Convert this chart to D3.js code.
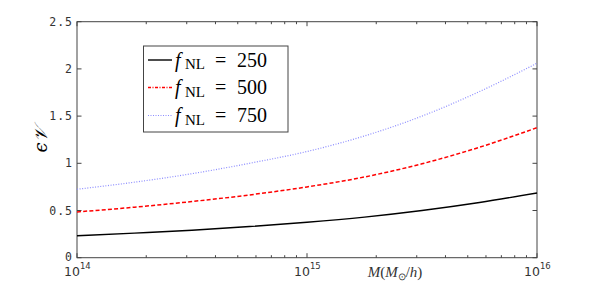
<!DOCTYPE html>
<html lang="en">
<head>
    <meta charset="UTF-8"/>
    <title>D3 visualization</title>
    <style>
        body { margin: 0; background: #fff; }
    </style>
</head>
<body>
<svg id="chart" width="594" height="291"></svg>

<script src="https://d3js.org/d3.v7.min.js"></script>
<script type="text/javascript">

    // halo mass (log10 M) and epsilon*V for each f_NL
    var logMass = [14, 14.25, 14.5, 14.75, 15, 15.25, 15.5, 15.75, 16];
    var fnl250 = [0.233, 0.26, 0.29, 0.33, 0.375, 0.43, 0.50, 0.585, 0.685];
    var fnl500 = [0.485, 0.535, 0.595, 0.665, 0.75, 0.855, 0.995, 1.17, 1.377];
    var fnl750 = [0.725, 0.80, 0.89, 1.00, 1.125, 1.29, 1.50, 1.76, 2.06];
    var yTicks = [0, 0.5, 1, 1.5, 2, 2.5];
    var xMajor = [1e14, 1e15, 1e16];
    var legendLabels = ["250", "500", "750"];

    let svg = d3.select("#chart"),
        pLeft = 77, pRight = 537, pTop = 21.7, pBottom = 257.7;

    let x = d3.scaleLog().domain([1e14, 1e16]).range([pLeft, pRight]);
    let y = d3.scaleLinear().domain([0, 2.5]).range([pBottom, pTop]);

    // minor ticks 2..9 per decade
    var xMinor = [];
    [1e14, 1e15].forEach(function (b) {
        for (var k = 2; k <= 9; k++) xMinor.push(b * k);
    });

    var axisColor = "#444";
    var g = svg.append("g");

    // ticks drawn inward, like the original
    g.selectAll(".ymaj").data(yTicks).enter().append("g").each(function (v) {
        d3.select(this).append("line")
            .attr("x1", pLeft).attr("x2", pLeft + 4.5)
            .attr("y1", y(v)).attr("y2", y(v))
            .style("stroke", axisColor);
        d3.select(this).append("line")
            .attr("x1", pRight).attr("x2", pRight - 4.5)
            .attr("y1", y(v)).attr("y2", y(v))
            .style("stroke", axisColor);
    });

    g.selectAll(".xmin").data(xMinor).enter().append("g").each(function (v) {
        d3.select(this).append("line")
            .attr("x1", x(v)).attr("x2", x(v))
            .attr("y1", pBottom).attr("y2", pBottom - 2.5)
            .style("stroke", axisColor);
        d3.select(this).append("line")
            .attr("x1", x(v)).attr("x2", x(v))
            .attr("y1", pTop).attr("y2", pTop + 2.5)
            .style("stroke", axisColor);
    });
    g.selectAll(".xmaj").data(xMajor).enter().append("g").each(function (v) {
        d3.select(this).append("line")
            .attr("x1", x(v)).attr("x2", x(v))
            .attr("y1", pBottom).attr("y2", pBottom - 4.5)
            .style("stroke", axisColor);
        d3.select(this).append("line")
            .attr("x1", x(v)).attr("x2", x(v))
            .attr("y1", pTop).attr("y2", pTop + 4.5)
            .style("stroke", axisColor);
    });

    // frame
    g.append("rect")
        .attr("x", pLeft).attr("y", pTop)
        .attr("width", pRight - pLeft).attr("height", pBottom - pTop)
        .style("fill", "none")
        .style("stroke", axisColor)
        .style("stroke-width", 1);

    // y tick labels
    svg.selectAll(".ylab").data(yTicks).enter().append("text")
        .attr("x", pLeft - 4)
        .attr("y", function (d) { return d === 0 ? y(d) + 3 : y(d) + 4; })
        .attr("text-anchor", "end")
        .style("font-family", "'DejaVu Sans Mono', monospace")
        .style("font-size", "11.5px")
        .style("letter-spacing", "1px")
        .style("fill", "#333")
        .text(function (d) { return d === 0 ? "0" : String(d); });

    // x tick labels 10^n
    svg.selectAll(".xlab").data(xMajor).enter().append("text")
        .attr("x", function (d) { return x(d) - 13; })
        .attr("y", 276)
        .style("font-family", "'DejaVu Sans', sans-serif")
        .style("font-size", "12.5px")
        .style("fill", "#333")
        .each(function (d) {
            var t = d3.select(this);
            t.append("tspan").text("10");
            t.append("tspan").attr("dy", -7).style("font-size", "8.5px")
                .text(String(Math.round(Math.log10(d))));
        });

    // axis labels
    var xl = svg.append("text")
        .attr("x", 395).attr("y", 277)
        .attr("text-anchor", "middle")
        .style("font-family", "'Liberation Serif', serif")
        .style("font-size", "15px")
        .style("fill", "#333");
    xl.append("tspan").style("font-style", "italic").text("M");
    xl.append("tspan").text("(");
    xl.append("tspan").style("font-style", "italic").text("M");
    xl.append("tspan").attr("dy", 3).style("font-size", "10px").text("\u2299");
    xl.append("tspan").attr("dy", -3).text("/");
    xl.append("tspan").style("font-style", "italic").text("h");
    xl.append("tspan").text(")");

    svg.append("text")
        .attr("transform", "translate(47,140) rotate(-90)")
        .attr("text-anchor", "middle")
        .style("font-family", "'DejaVu Serif', serif")
        .style("font-style", "italic")
        .style("font-size", "18px")
        .style("fill", "#000")
        .text("\u03F5\uD835\uDCB1");

    // curves
    var series = [
        {vals: fnl250, color: "#000", dash: null, width: 1.4},
        {vals: fnl500, color: "#f00", dash: "4,2.2", width: 1.5},
        {vals: fnl750, color: "#8c8cff", dash: "1,1.6", width: 1.2}
    ];

    let line = d3.line()
        .x(function (d) { return x(Math.pow(10, d[0])); })
        .y(function (d) { return y(d[1]); })
        .curve(d3.curveMonotoneX);

    series.forEach(function (s) {
        svg.append("path")
            .datum(logMass.map(function (m, i) { return [m, s.vals[i]]; }))
            .attr("d", line)
            .style("fill", "none")
            .style("stroke", s.color)
            .style("stroke-width", s.width)
            .style("stroke-dasharray", s.dash);
    });

    // legend
    var leg = svg.append("g");
    leg.append("rect")
        .attr("x", 143.5).attr("y", 46)
        .attr("width", 144.5).attr("height", 86)
        .style("fill", "#fff")
        .style("stroke", "#444")
        .style("stroke-width", 1);

    var legendDash = [null, "3,1.5,1,1.5", "1,1.5"];
    var rowY = [60, 87.5, 115.5];
    legendLabels.forEach(function (lab, i) {
        leg.append("line")
            .attr("x1", 148).attr("x2", 172)
            .attr("y1", rowY[i]).attr("y2", rowY[i])
            .style("stroke", series[i].color)
            .style("stroke-width", series[i].width)
            .style("stroke-dasharray", legendDash[i]);
        var t = leg.append("text")
            .attr("y", rowY[i] + 6.7)
            .style("font-family", "'Liberation Serif', serif")
            .style("font-size", "20px")
            .style("fill", "#000");
        t.append("tspan").attr("x", 175).style("font-style", "italic").text("f");
        t.append("tspan").attr("x", 185).attr("dy", 2.5).style("font-size", "15px").text("NL");
        t.append("tspan").attr("x", 215).attr("dy", -2.5).text("=");
        t.append("tspan").attr("x", 237).text(lab);
    });
</script>
</body>
</html>
